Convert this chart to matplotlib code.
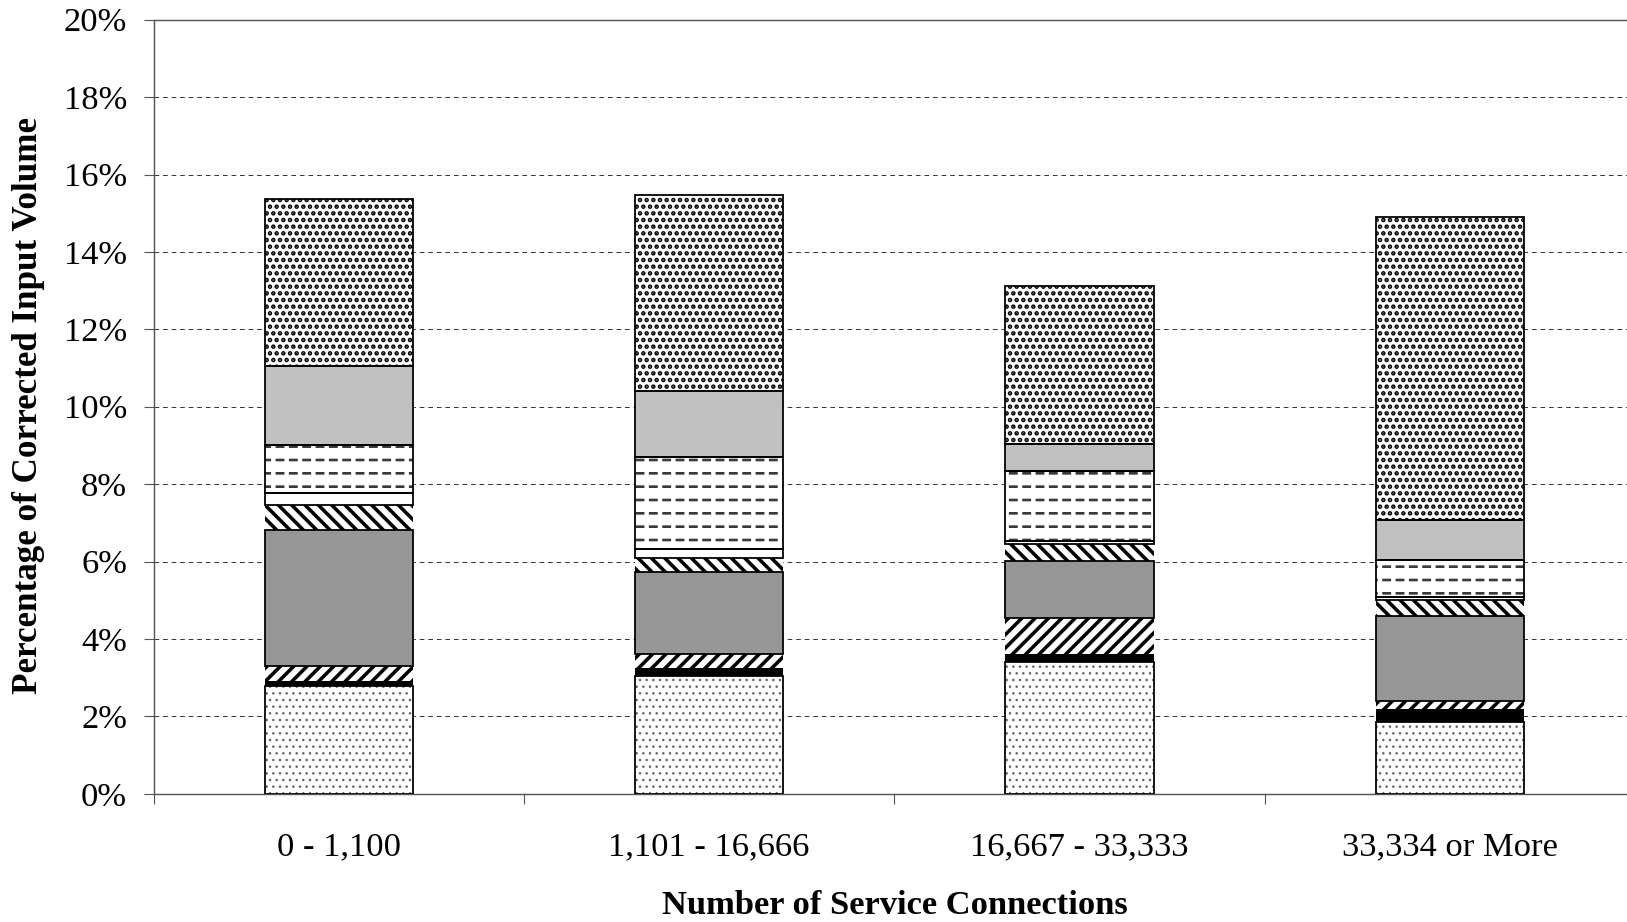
import matplotlib
matplotlib.use("Agg")
import matplotlib.pyplot as plt
import numpy as np
from matplotlib.ticker import FuncFormatter, FixedLocator

categories = ['0 - 1,100', '1,101 - 16,666', '16,667 - 33,333', '33,334 or More']
light_dots = [2.79, 3.04, 3.40, 1.85]
black_band = [0.13, 0.20, 0.20, 0.34]
fwd_hatch = [0.38, 0.36, 0.95, 0.20]
dark_gray = [3.52, 2.14, 1.46, 2.20]
back_hatch = [0.63, 0.36, 0.44, 0.42]
white_band = [0.32, 0.23, 0.07, 0.08]
dashes = [1.24, 2.37, 1.83, 0.96]
light_gray = [2.04, 1.71, 0.70, 1.02]
dense_dots = [4.32, 5.06, 4.08, 7.84]
yticks = [0, 2, 4, 6, 8, 10, 12, 14, 16, 18, 20]

DPI = 80
FS = 31
plt.rcParams['font.family'] = ['Liberation Serif', 'DejaVu Serif']
plt.rcParams['hatch.linewidth'] = 1.0

fig = plt.figure(figsize=(1627 / DPI, 922 / DPI), dpi=DPI)
ax = fig.add_axes([153.6 / 1627, 1 - 793.8 / 922, (1635 - 153.6) / 1627, (793.8 - 19.7) / 922])

x = np.arange(len(categories))
w = 0.40


def hatched_bar(vals, bottom, face, hatch, hcol, hlw, z):
    with plt.rc_context({'hatch.linewidth': hlw}):
        bars = ax.bar(x, vals, w, bottom=bottom, color=face, edgecolor=hcol,
                      linewidth=0, hatch=hatch, zorder=z)
    for b in bars:
        if hasattr(b, 'set_hatch_linewidth'):
            b.set_hatch_linewidth(hlw)
    return bars


# segment specs: (values, face, hatch, hatchcolor, hatch_lw, outline)
segments = [
    (light_dots, 'white', '..', '#606060', 1.0, True),
    (black_band, 'black', None, 'black', 1.0, False),
    (fwd_hatch, 'white', '//', 'black', 3.2, False),
    (dark_gray, '#969696', None, 'black', 1.0, True),
    (back_hatch, 'white', '\\\\', 'black', 3.2, False),
    (white_band, 'white', None, 'black', 1.0, True),
    (dashes, 'white', '-', '#3a3a3a', 2.4, True),
    (light_gray, '#C0C0C0', None, 'black', 1.0, True),
    (dense_dots, 'white', '..', 'black', 2.8, True),
]

bottom = np.zeros(len(categories))
for i, (vals, face, hatch, hcol, hlw, outline) in enumerate(segments):
    vals = np.array(vals)
    hatched_bar(vals, bottom, face, hatch, hcol, hlw, 3)
    if hatch == '-':
        # break the horizontal lines into dashes
        hatched_bar(vals, bottom, 'none', '|', 'white', 4.0, 3.5)
    if outline:
        ax.bar(x, vals, w, bottom=bottom, fill=False, edgecolor='black',
               linewidth=1.6, zorder=4)
    bottom = bottom + vals

ax.set_xlim(-0.5, 3.5)
ax.set_ylim(0, 20)
ax.yaxis.set_major_locator(FixedLocator(yticks))
ax.yaxis.set_major_formatter(FuncFormatter(lambda v, p: f"{int(round(v))}%"))
for yv in yticks[1:-1]:
    ax.axhline(yv, color='black', linestyle=(0, (6, 5)), linewidth=0.7, zorder=1)

ax.xaxis.set_major_locator(FixedLocator([-0.5, 0.5, 1.5, 2.5, 3.5]))
ax.xaxis.set_major_formatter(FuncFormatter(lambda v, p: ''))
ax.xaxis.set_minor_locator(FixedLocator(list(x)))
ax.set_xticklabels(categories, minor=True)
ax.tick_params(axis='x', which='major', direction='out', length=9, width=1.0, color='#555555')
ax.tick_params(axis='x', which='minor', length=0, pad=34, labelsize=FS)
ax.tick_params(axis='y', direction='out', length=9, width=1.0, color='#555555', pad=15, labelsize=FS)

for s in ['left', 'bottom', 'top']:
    ax.spines[s].set_color('#555555')
    ax.spines[s].set_linewidth(1.3)
ax.spines['right'].set_visible(False)

fig.text((862 * 1.0376) / 1627, 1 - 906 / 922, 'Number of Service Connections',
         ha='center', va='center', fontsize=FS, fontweight='bold')
fig.text(29 / 1627, 1 - (391 * 1.0376) / 922, 'Percentage of Corrected Input Volume',
         ha='center', va='center', rotation=90, fontsize=31.5, fontweight='bold')

fig.savefig('out.png', dpi=DPI)
